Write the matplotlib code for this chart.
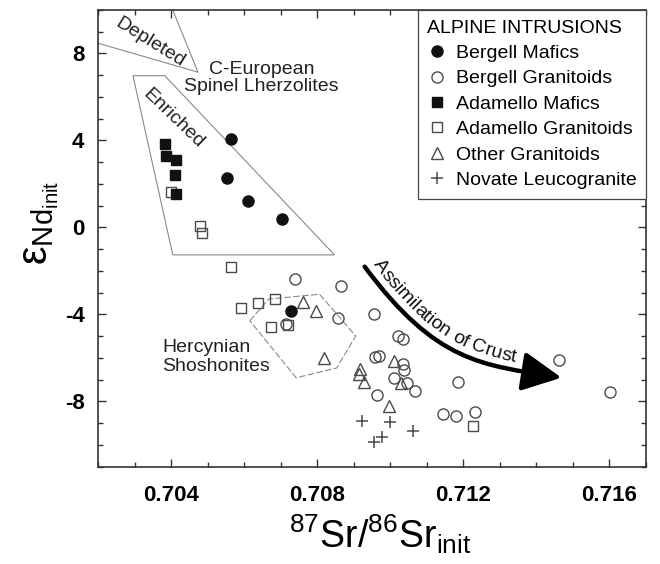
import matplotlib
matplotlib.use('Agg')
import matplotlib.pyplot as plt
import numpy as np
from matplotlib.path import Path
from matplotlib.patches import FancyArrowPatch, Polygon
from matplotlib.ticker import MultipleLocator, FormatStrFormatter
from matplotlib.textpath import TextToPath
from matplotlib.font_manager import FontProperties

plt.rcParams['font.family'] = ['Liberation Sans', 'DejaVu Sans']
plt.rcParams['mathtext.fontset'] = 'custom'
plt.rcParams['mathtext.rm'] = 'Liberation Sans'
plt.rcParams['mathtext.it'] = 'Liberation Sans:italic'
plt.rcParams['mathtext.bf'] = 'Liberation Sans:bold'
plt.rcParams['mathtext.default'] = 'regular'
plt.rcParams['axes.unicode_minus'] = False

# ---------------- data ----------------
bergell_mafics_sr = [0.70564, 0.70552, 0.70610, 0.70704, 0.70729]
bergell_mafics_nd = [4.07, 2.29, 1.23, 0.39, -3.83]

bergell_gran_sr = [0.70738, 0.70864, 0.70955, 0.70856, 0.70713, 0.71021, 0.71035,
                   0.70957, 0.70969, 0.71035, 0.71036, 0.71009, 0.71045, 0.71067,
                   0.70964, 0.71185, 0.71144, 0.71179, 0.71233, 0.71461, 0.71601]
bergell_gran_nd = [-2.38, -2.68, -3.98, -4.17, -4.44, -4.97, -5.13,
                   -5.97, -5.91, -6.28, -6.55, -6.93, -7.16, -7.50,
                   -7.70, -7.12, -8.59, -8.65, -8.50, -6.09, -7.55]

adamello_mafics_sr = [0.70382, 0.70386, 0.70414, 0.70409, 0.70414]
adamello_mafics_nd = [3.83, 3.30, 3.09, 2.41, 1.53]

adamello_gran_sr = [0.70400, 0.70478, 0.70484, 0.70564, 0.70590, 0.70637, 0.70685,
                    0.70672, 0.70719, 0.71225]
adamello_gran_nd = [1.62, 0.08, -0.27, -1.80, -3.71, -3.49, -3.30,
                    -4.59, -4.48, -9.11]

other_gran_sr = [0.70761, 0.70795, 0.70817, 0.70918, 0.70914, 0.70928, 0.71010,
                 0.71030, 0.70995]
other_gran_nd = [-3.44, -3.83, -5.99, -6.51, -6.74, -7.12, -6.12,
                 -7.16, -8.19]

novate_sr = [0.70922, 0.71000, 0.71062, 0.70978, 0.70955]
novate_nd = [-8.88, -8.93, -9.34, -9.65, -9.85]

# field outlines (annotation shapes)
depleted_sr = [0.70200, 0.70473, 0.70404]
depleted_nd = [8.47, 7.14, 10.0]
enriched_sr = [0.70295, 0.70382, 0.70847, 0.70404]
enriched_nd = [6.98, 6.98, -1.26, -1.26]
hercynian_sr = [0.70615, 0.70667, 0.70806, 0.70905, 0.70853, 0.70742]
hercynian_nd = [-4.29, -3.29, -3.07, -4.99, -6.46, -6.91]
arrow_sr = [0.709296, 0.711258, 0.712529, 0.714685]
arrow_nd = [-1.802, -6.239, -6.326, -6.906]

# ---------------- figure ----------------
fig = plt.figure(figsize=(6.6, 5.64), dpi=100)
ax = fig.add_axes([0.1489, 0.1725, 0.8299, 0.8098])
ax.set_xlim(0.702, 0.717)
ax.set_ylim(-11, 10)

gray = '#8a8a8a'
ax.plot(depleted_sr, depleted_nd, color=gray, lw=0.8, zorder=1)
ax.add_patch(Polygon(np.column_stack([enriched_sr, enriched_nd]), closed=True,
                     fill=False, ec=gray, lw=0.8, zorder=1))
ax.add_patch(Polygon(np.column_stack([hercynian_sr, hercynian_nd]), closed=True,
                     fill=False, ec=gray, lw=0.8, ls=(0, (6, 2)), zorder=1))

ec = '#4a4a4a'
ax.plot(bergell_mafics_sr, bergell_mafics_nd, 'o', ms=8, color='#111111',
        mec='#111111', ls='none', label='Bergell Mafics', zorder=4)
ax.plot(bergell_gran_sr, bergell_gran_nd, 'o', ms=8, mfc='none', mec=ec, mew=1.0,
        ls='none', label='Bergell Granitoids', zorder=3)
ax.plot(adamello_mafics_sr, adamello_mafics_nd, 's', ms=7, color='#111111',
        ls='none', label='Adamello Mafics', zorder=4)
ax.plot(adamello_gran_sr, adamello_gran_nd, 's', ms=7.5, mfc='none', mec=ec, mew=1.0,
        ls='none', label='Adamello Granitoids', zorder=3)
ax.plot(other_gran_sr, other_gran_nd, '^', ms=9, mfc='none', mec=ec, mew=1.0,
        ls='none', label='Other Granitoids', zorder=3)
ax.plot(novate_sr, novate_nd, '+', ms=9, mec=ec, mew=1.1,
        ls='none', label='Novate Leucogranite', zorder=3)

# arrow
verts = np.column_stack([arrow_sr, arrow_nd])
apath = Path(verts, [Path.MOVETO, Path.CURVE4, Path.CURVE4, Path.CURVE4])
arr = FancyArrowPatch(path=apath, arrowstyle='-|>,head_length=1.6,head_width=0.8',
                      mutation_scale=15, lw=3.2, color='black', zorder=5)
ax.add_patch(arr)

# curved text along arrow
def bez(t, P):
    P0, P1, P2, P3 = P
    t = t[:, None]
    return (1-t)**3*P0 + 3*(1-t)**2*t*P1 + 3*(1-t)*t**2*P2 + t**3*P3

ts = np.linspace(0, 1, 800)
pd_ = bez(ts, verts)
pdisp = ax.transData.transform(pd_)
dd = np.gradient(pdisp, axis=0)
dd /= np.linalg.norm(dd, axis=1)[:, None]
nrm = np.column_stack([-dd[:, 1], dd[:, 0]])
offc = pdisp + nrm * 8.0
s = np.concatenate([[0], np.cumsum(np.hypot(*np.diff(offc, axis=0).T))])
t2p = TextToPath()
fsz = 14
fp = FontProperties(family='Liberation Sans', size=fsz)
pos = 3.0
inv = ax.transData.inverted()
for ch in 'Assimilation of Crust':
    w, h, dsc = t2p.get_text_width_height_descent(ch, fp, ismath=False)
    wpx = w * fig.dpi / 72.0
    sc = pos + wpx / 2
    x = np.interp(sc, s, offc[:, 0])
    y = np.interp(sc, s, offc[:, 1])
    tx = np.interp(sc, s, dd[:, 0])
    ty = np.interp(sc, s, dd[:, 1])
    ang = np.degrees(np.arctan2(ty, tx))
    xd, yd = inv.transform((x, y))
    ax.text(xd, yd, ch, rotation=ang, rotation_mode='anchor', ha='center',
            va='baseline', fontsize=fsz, color='#111111', zorder=6)
    pos += wpx

# field labels
ax.text(0.70342, 8.50, 'Depleted', rotation=-32, ha='center', va='center',
        fontsize=14, color='#222222', rotation_mode='anchor')
ax.text(0.70406, 5.02, 'Enriched', rotation=-44, ha='center', va='center',
        fontsize=14, color='#222222', rotation_mode='anchor')
ax.text(0.70647, 6.87, 'C-European\nSpinel Lherzolites', ha='center', va='center',
        fontsize=14, color='#222222', linespacing=1.0)
ax.text(0.70376, -5.95, 'Hercynian\nShoshonites', ha='left', va='center',
        fontsize=14, color='#222222', linespacing=1.1)

# axes styling
ax.xaxis.set_major_locator(MultipleLocator(0.004))
ax.xaxis.set_minor_locator(MultipleLocator(0.001))
ax.yaxis.set_major_locator(MultipleLocator(4))
ax.yaxis.set_minor_locator(MultipleLocator(1))
ax.xaxis.set_major_formatter(FormatStrFormatter('%.3f'))
ax.yaxis.set_major_formatter(FormatStrFormatter('%d'))
ax.tick_params(which='both', direction='in', top=True, right=True,
               colors='#333333', labelcolor='black', width=1.0)
ax.tick_params(which='major', length=6, labelsize=16)
ax.tick_params(axis='x', which='major', pad=13)
ax.tick_params(axis='y', which='major', pad=10)
ax.tick_params(which='minor', length=3.5)
for sp in ax.spines.values():
    sp.set_linewidth(1.2)
    sp.set_color('#333333')
plt.setp(ax.get_xticklabels() + ax.get_yticklabels(), fontweight='bold')

ax.set_xlabel('$^{87}$Sr/$^{86}$Sr$_{init}$', fontsize=27, labelpad=2)
ax.xaxis.set_label_coords(0.515, -0.1)
ax.xaxis.label.set_va('top')
ax.set_ylabel('$ε_{Nd_{init}}$', fontsize=30, labelpad=4)
ax.yaxis.set_label_coords(-0.068, 0.535)

leg = ax.legend(loc='upper right', bbox_to_anchor=(1, 1), borderaxespad=0,
                title='ALPINE INTRUSIONS', title_fontsize=14, fontsize=14,
                frameon=True, fancybox=False, edgecolor='#444444', framealpha=1,
                handlelength=1.0, handletextpad=0.45, labelspacing=0.4,
                borderpad=0.5, alignment='left')
leg.get_frame().set_linewidth(0.9)
leg.set_zorder(10)

fig.savefig('out.png', dpi=100)
